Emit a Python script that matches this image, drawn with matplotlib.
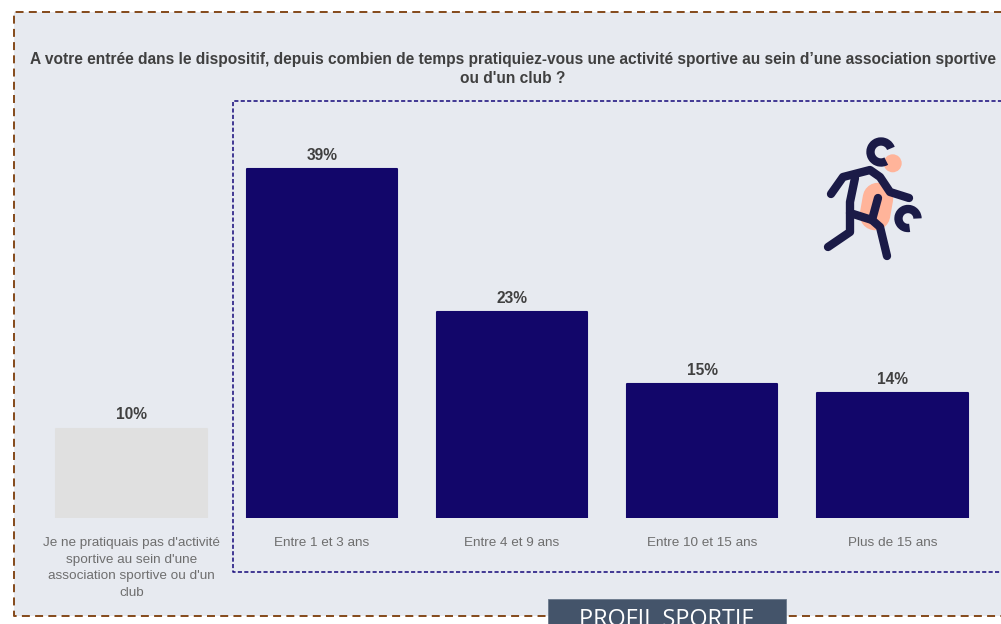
# profil_sportif.py
# Duration of sports club practice on entry into the programme.
import matplotlib
matplotlib.use("Agg")
import numpy as np
import matplotlib.pyplot as plt
from matplotlib.patches import Arc, Circle, Rectangle

categories = [
    "Je ne pratiquais pas d'activité\nsportive au sein d'une\nassociation sportive ou d'un\nclub",
    "Entre 1 et 3 ans",
    "Entre 4 et 9 ans",
    "Entre 10 et 15 ans",
    "Plus de 15 ans",
]
values = [10, 39, 23, 15, 14]
title = ("A votre entrée dans le dispositif, depuis combien de temps pratiquiez-vous "
         "une activité sportive au sein d’une association sportive\nou d'un club ?")

W, H = 1001, 624
NAVY = "#12066a"
GREY_BAR = "#e0e0e0"
PANEL = "#e7eaf0"
BROWN = "#84491a"
BLUE_DASH = "#14087a"
DARK_TEXT = "#404040"
ICON = "#1b1b47"
PEACH = "#ffb49a"

plt.rcParams["font.family"] = ["Liberation Sans", "DejaVu Sans"]

fig = plt.figure(figsize=(W / 100, H / 100), dpi=100, facecolor="white")

# background layer in pixel units: panel, frames, icon, banner
bg = fig.add_axes([0, 0, 1, 1])
bg.set_xlim(0, W)
bg.set_ylim(H, 0)
bg.axis("off")

bg.add_patch(Rectangle((14, 12), W, 604, facecolor=PANEL, edgecolor="none"))
bg.plot([W + 5, 14, 14, W + 5], [12, 12, 616, 616], color=BROWN, lw=1.4,
        dashes=(4.1, 2.7))
bg.plot([W + 5, 233, 233, W + 5], [100.5, 100.5, 571.5, 571.5], color=BLUE_DASH, lw=1.1,
        dashes=(2.7, 1.5))

bg.text(513, 69, title, ha="center", va="center", fontsize=11.2, fontweight="bold",
        color=DARK_TEXT, linespacing=1.26)

# player icon
def stroke(xs, ys, lw=6):
    bg.plot(xs, ys, color=ICON, lw=lw, solid_capstyle="round", solid_joinstyle="round")

bg.plot([878, 875], [198, 215], color=PEACH, lw=22, solid_capstyle="round")
bg.add_patch(Circle((892.7, 163.3), 9, facecolor=PEACH, edgecolor="none"))
# y axis is inverted here, so arc angles run clockwise on screen
bg.add_patch(Arc((881, 152), 21, 21, theta1=60, theta2=340, color=ICON, lw=6))
bg.add_patch(Arc((908, 218.5), 19, 19, theta1=80, theta2=360, color=ICON, lw=6))
stroke([831, 843, 870, 880, 890, 909], [194, 177, 170, 177, 192, 198])
stroke([855, 850, 850, 872, 880, 887], [178, 202, 213, 220, 227, 256])
stroke([850, 850, 828], [213, 232, 247])
stroke([878, 872], [198, 220])

# bars
ax = fig.add_axes([36.5 / W, 1 - 518 / H, 951 / W, 418 / H])
ax.patch.set_alpha(0)
colors = [GREY_BAR] + [NAVY] * 4
x = np.arange(len(categories))
bars = ax.bar(x, values, width=0.79, color=colors, edgecolor=colors, linewidth=1.5)
for b in bars:
    b.set_joinstyle("round")
ax.set_xlim(-0.5, 4.5)
ax.set_ylim(0, 418 / 8.94)
for xi, v in zip(x, values):
    ax.annotate(f"{v}%", (xi, v), xytext=(0, 4.5), textcoords="offset points",
                ha="center", va="bottom", fontsize=11.2, fontweight="bold", color=DARK_TEXT)
ax.set_xticks(x, categories, fontsize=9.7, color="#6e6e6e", linespacing=1.5)
ax.tick_params(axis="x", length=0, pad=14)
ax.set_yticks([])
for s in ax.spines.values():
    s.set_visible(False)

# section banner, runs off the bottom edge
top = fig.add_axes([0, 0, 1, 1])
top.set_xlim(0, W)
top.set_ylim(H, 0)
top.axis("off")
top.add_patch(Rectangle((547.5, 598.5), 238, 40, facecolor="#44546a", edgecolor="#6b7a8c", lw=0.6))
top.text(666.5, 625.5, "PROFIL SPORTIF", ha="center", va="baseline", color="white",
         fontsize=16.8, family="Open Sans")

fig.savefig("out.png", dpi=100)
plt.close(fig)
